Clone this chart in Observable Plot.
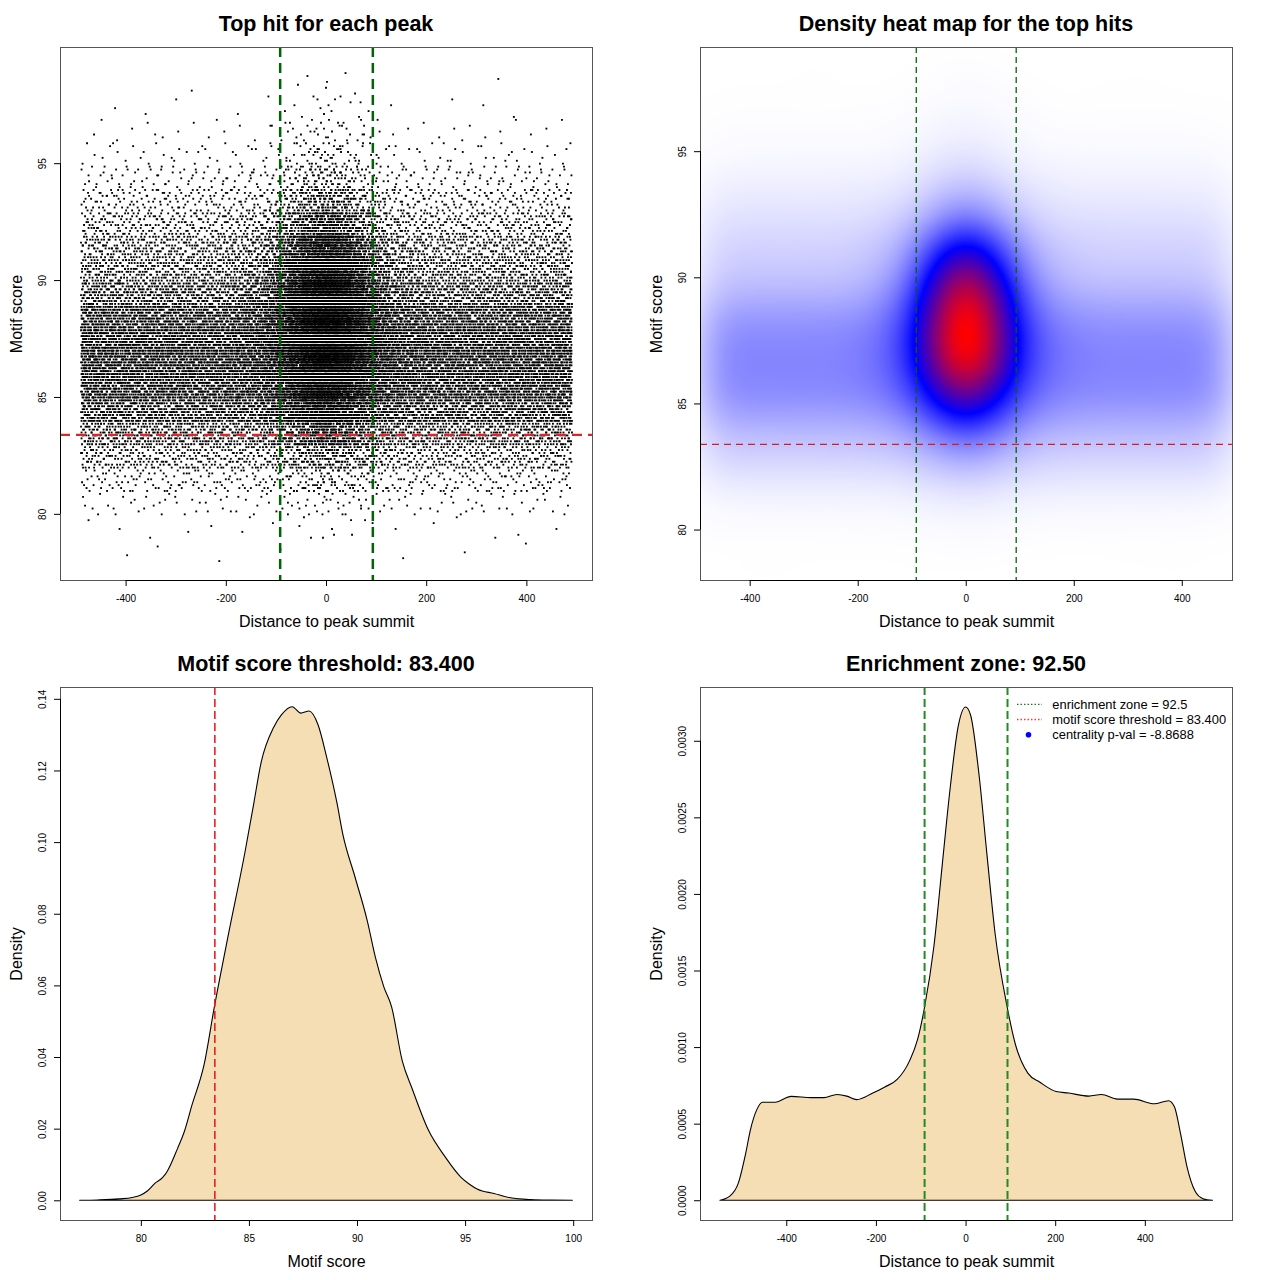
<!DOCTYPE html>
<html><head><meta charset="utf-8">
<script src="https://cdn.jsdelivr.net/npm/d3@7"></script>
<script src="https://cdn.jsdelivr.net/npm/@observablehq/plot@0.6"></script>
<style>
body{margin:0;background:#fff;}
#wrap{position:relative;width:1280px;height:1280px;font-family:"Liberation Sans",Arial,Helvetica,sans-serif;background:#fff;}
.panel{position:absolute;width:640px;height:640px;}
.panel svg.plot{position:absolute;left:0;top:0;}
.title{position:absolute;left:60px;width:532px;top:14px;text-align:center;font-weight:bold;font-size:21.5px;line-height:21px;white-space:nowrap;}
g[aria-label="x-axis label"] text, g[aria-label="y-axis label"] text{font-size:16px;}
.legend{position:absolute;left:0;top:0;pointer-events:none;}
</style></head><body><div id="wrap"></div>
<script>
// ---------- data ----------
// Motif score bins (lower edge, width 1) and point counts read from the scatter / density panels
const scoreBinStart = [78,79,80,81,82,83,84,85,86,87,88,89,90,91,92,93,94,95,96,97,98];
const backgroundCounts = [7,18,102,315,768,1280,1969,2586,2712,2653,2259,1575,1143,941,648,414,205,85,35,10,2];
const centralCounts = [2,6,15,41,112,255,560,930,1330,1530,1530,1450,1150,720,360,184,92,51,31,15,6];
// background hits spread over the whole window, central hits over these distance bins
const backgroundDistRange = [-490, 490];
const centralDistEdges = [-200,-175,-150,-125,-100,-75,-50,-25,0,25,50,75,100,125,150,175,200];
const centralDistCounts = [37,75,120,250,510,885,1425,1800,1800,1425,885,510,250,120,75,37];
const scoreStep = 0.125;

const enrichmentZone = 92.5;
const scoreThreshold = 83.4;

// density curve of motif scores
const scoreGrid = [77.17,78,79,79.6,80,80.3,80.66,81,81.23,81.7,82,82.36,82.93,83.4,84.06,84.82,85.2,85.57,86.14,86.5,87.0,87.4,87.78,88.2,88.6,89.07,89.35,89.9,90.48,90.86,91.24,91.6,92.09,92.56,93.3,94.07,94.8,95.2,95.58,96.34,97.1,98.04,99,99.96];
const scoreDens = [0,0.0001,0.0004,0.0008,0.0015,0.0026,0.0048,0.0063,0.0082,0.0145,0.019,0.0265,0.038,0.054,0.0745,0.0973,0.110,0.1224,0.132,0.1355,0.1378,0.136,0.1366,0.1327,0.1236,0.111,0.102,0.0904,0.0779,0.0676,0.0596,0.054,0.039,0.031,0.0196,0.0122,0.0065,0.0045,0.0031,0.0019,0.0007,0.0002,0.00005,0];
// density curve of distance to summit
const distGrid = [-548,-526,-507,-491,-480,-466,-453,-425,-389,-344,-316,-287,-265,-243,-207,-180,-152,-125,-107,-91.5,-70.5,-52,-34,-16,0,11,30,48,66,93,111,139,166,202,230,275,303,339,375,421,453,466,480,494,512,530,551];
const distDens = [0,0.000027,0.000112,0.0003,0.00046,0.00059,0.00064,0.00064,0.000678,0.00067,0.00067,0.00069,0.00068,0.000657,0.0007,0.00074,0.00079,0.00091,0.00105,0.00126,0.00166,0.00219,0.0027,0.0031,0.00322,0.00317,0.00278,0.00225,0.00174,0.00126,0.00102,0.00083,0.00077,0.00071,0.0007,0.00068,0.00069,0.00066,0.00066,0.00063,0.00065,0.00061,0.00043,0.00022,0.00006,0.00001,0];

// ticks
const distTicks = [-400,-200,0,200,400];
const scoreTicks = [80,85,90,95];
const scoreTicks3 = [80,85,90,95,100];
const dens3Ticks = [0,0.02,0.04,0.06,0.08,0.10,0.12,0.14];
const dens4Ticks = [0,0.0005,0.0010,0.0015,0.0020,0.0025,0.0030];

// legend
const legendLabels = ["enrichment zone = 92.5","motif score threshold = 83.400","centrality p-val = -8.8688"];
const legendColors = ["#1f7a1f","#e84040","blue"];
const legendKinds = ["line","line","dot"];

const titles = ["Top hit for each peak","Density heat map for the top hits","Motif score threshold: 83.400","Enrichment zone: 92.50"];

// ---------- build point table from binned counts (Halton placement inside each bin) ----------
function halton(i, b) { let f = 1, r = 0; while (i > 0) { f /= b; r += f * (i % b); i = Math.floor(i / b); } return r; }
const pts = [];
let idx = 17;
function nextUV() { idx++; return [halton(idx, 2), halton(idx, 3)]; }
const perRow = Math.round(1 / scoreStep);
const cdSum = d3.sum(centralDistCounts);
scoreBinStart.forEach((lo, i) => {
  for (let k = 0; k < backgroundCounts[i]; k++) {
    const [u, v] = nextUV();
    pts.push({d: Math.round(backgroundDistRange[0] + u * (backgroundDistRange[1] - backgroundDistRange[0])), s: lo + Math.floor(v * perRow) * scoreStep});
  }
  centralDistCounts.forEach((c, j) => {
    const n = Math.round(centralCounts[i] * c / cdSum);
    const a = centralDistEdges[j], b = centralDistEdges[j + 1];
    for (let k = 0; k < n; k++) {
      const [u, v] = nextUV();
      pts.push({d: Math.round(a + u * (b - a)), s: lo + Math.floor(v * perRow) * scoreStep});
    }
  });
});

// ---------- 2D kernel density of the points (like kde2d) ----------
const x2Dom = [-492, 493], y2Dom = [78.0, 99.13];
const kNx = 246, kNy = 170;
const kSigX = 38, kSigY = 0.55;
const cw = (x2Dom[1] - x2Dom[0]) / kNx, chh = (y2Dom[1] - y2Dom[0]) / kNy;
let kg = new Float64Array(kNx * kNy);
for (const p of pts) {
  const i = Math.floor((p.d - x2Dom[0]) / cw), j = Math.floor((p.s - y2Dom[0]) / chh);
  if (i >= 0 && i < kNx && j >= 0 && j < kNy) kg[j * kNx + i]++;
}
function kernel(sigmaCells) {
  const r = Math.ceil(sigmaCells * 3), k = [];
  for (let t = -r; t <= r; t++) k.push(Math.exp(-0.5 * (t / sigmaCells) ** 2));
  const s = d3.sum(k); return k.map(v => v / s);
}
function blur(src, nx, ny, kx, ky) {
  const tmp = new Float64Array(nx * ny), out = new Float64Array(nx * ny);
  const rx = (kx.length - 1) / 2, ry = (ky.length - 1) / 2;
  for (let j = 0; j < ny; j++) for (let i = 0; i < nx; i++) {
    let s = 0; for (let t = -rx; t <= rx; t++) { const ii = i + t; if (ii >= 0 && ii < nx) s += src[j * nx + ii] * kx[t + rx]; }
    tmp[j * nx + i] = s;
  }
  for (let j = 0; j < ny; j++) for (let i = 0; i < nx; i++) {
    let s = 0; for (let t = -ry; t <= ry; t++) { const jj = j + t; if (jj >= 0 && jj < ny) s += tmp[jj * nx + i] * ky[t + ry]; }
    out[j * nx + i] = s;
  }
  return out;
}
kg = blur(kg, kNx, kNy, kernel(kSigX / cw), kernel(kSigY / chh));
const kMax = d3.max(kg);
function kdeAt(x, y) {
  const fx = Math.min(Math.max((x - x2Dom[0]) / cw - 0.5, 0), kNx - 1.001);
  const fy = Math.min(Math.max((y - y2Dom[0]) / chh - 0.5, 0), kNy - 1.001);
  const i = Math.floor(fx), j = Math.floor(fy), a = fx - i, b = fy - j;
  const v00 = kg[j * kNx + i], v10 = kg[j * kNx + i + 1], v01 = kg[(j + 1) * kNx + i], v11 = kg[(j + 1) * kNx + i + 1];
  return (v00 * (1 - a) + v10 * a) * (1 - b) + (v01 * (1 - a) + v11 * a) * b;
}

// ---------- helpers ----------
const FONT = '"Liberation Sans", Arial, Helvetica, sans-serif';
const dash = d => String(d);
function axes({xTicks, yTicks, xDomain, yDomain, xFmt = dash, yFmt = dash, xLabel, yLabel}) {
  return [
    Plot.frame({stroke: "#555"}),
    Plot.ruleY([yDomain[0]], {x1: xTicks[0], x2: xTicks[xTicks.length - 1], stroke: "black"}),
    Plot.ruleX([xDomain[0]], {y1: yTicks[0], y2: yTicks[yTicks.length - 1], stroke: "black"}),
    Plot.axisX(xTicks, {tickSize: 6, tickPadding: 8, tickFormat: xFmt, label: xLabel, labelAnchor: "center", labelArrow: "none", labelOffset: 46}),
    Plot.axisY(yTicks, {tickSize: 6, tickRotate: -90, tickPadding: 9, tickFormat: yFmt, label: yLabel, labelAnchor: "center", labelArrow: "none", labelOffset: 50})
  ];
}
const base = {width: 640, height: 640, marginLeft: 60, marginRight: 48, marginTop: 47, marginBottom: 60,
  style: {fontFamily: FONT, fontSize: "10px", background: "transparent", overflow: "visible"}};

function panel(i, chart) {
  const div = document.createElement("div");
  div.className = "panel";
  div.style.left = (i % 2) * 640 + "px";
  div.style.top = Math.floor(i / 2) * 640 + "px";
  const t = document.createElement("div");
  t.className = "title"; t.textContent = titles[i];
  div.appendChild(chart);
  div.appendChild(t);
  document.getElementById("wrap").appendChild(div);
  return div;
}

// ---------- panel 1: scatter ----------
const x1Dom = [-531, 531], y1Dom = [77.17, 99.97];
panel(0, Plot.plot({...base,
  x: {domain: x1Dom}, y: {domain: y1Dom},
  marks: [
    Plot.dot(pts, {x: "d", y: "s", r: 1.05, symbol: "square", fill: "black"}),
    Plot.ruleX([-enrichmentZone, enrichmentZone], {stroke: "#006400", strokeWidth: 2.5, strokeDasharray: "10,6"}),
    Plot.ruleY([scoreThreshold], {stroke: "#e02525", strokeWidth: 2.2, strokeDasharray: "10,6"}),
    ...axes({xTicks: distTicks, yTicks: scoreTicks, xDomain: x1Dom, yDomain: y1Dom, xLabel: "Distance to peak summit", yLabel: "Motif score"})
  ]}));

// ---------- panel 2: density heat map ----------
panel(1, Plot.plot({...base,
  x: {domain: x2Dom}, y: {domain: y2Dom},
  color: {type: "linear", domain: [0, kMax], interpolate: d3.piecewise(d3.interpolateRgb, ["#ffffff", "#0000ff", "#ff0000"])},
  marks: [
    Plot.raster({x1: x2Dom[0], x2: x2Dom[1], y1: y2Dom[0], y2: y2Dom[1], fill: kdeAt, pixelSize: 1}),
    Plot.ruleX([-enrichmentZone, enrichmentZone], {stroke: "#006400", strokeWidth: 1.3, strokeDasharray: "6,4"}),
    Plot.ruleY([scoreThreshold], {stroke: "#d02020", strokeWidth: 1.3, strokeDasharray: "7,5"}),
    ...axes({xTicks: distTicks, yTicks: scoreTicks, xDomain: x2Dom, yDomain: y2Dom, xLabel: "Distance to peak summit", yLabel: "Motif score"})
  ]}));

// ---------- panel 3: motif score density ----------
const x3Dom = [76.26, 100.87], y3Dom = [-0.0055, 0.1433];
const scoreCurve = scoreGrid.map((x, i) => ({x, y: scoreDens[i]}));
panel(2, Plot.plot({...base,
  x: {domain: x3Dom}, y: {domain: y3Dom},
  marks: [
    Plot.areaY(scoreCurve, {x: "x", y: "y", fill: "#F5DEB3", stroke: "black", strokeWidth: 1.1, curve: "monotone-x"}),
    Plot.ruleX([scoreThreshold], {stroke: "#e82020", strokeWidth: 1.6, strokeDasharray: "8,4"}),
    ...axes({xTicks: scoreTicks3, yTicks: dens3Ticks, xDomain: x3Dom, yDomain: y3Dom, yFmt: d3.format(".2f"), xLabel: "Motif score", yLabel: "Density"})
  ]}));

// ---------- panel 4: distance density ----------
const x4Dom = [-592.5, 594.5], y4Dom = [-0.000129, 0.003351];
const distCurve = distGrid.map((x, i) => ({x, y: distDens[i]}));
const p4 = panel(3, Plot.plot({...base,
  x: {domain: x4Dom}, y: {domain: y4Dom},
  marks: [
    Plot.areaY(distCurve, {x: "x", y: "y", fill: "#F5DEB3", stroke: "black", strokeWidth: 1.1, curve: "monotone-x"}),
    Plot.ruleX([-enrichmentZone, enrichmentZone], {stroke: "#228b22", strokeWidth: 2, strokeDasharray: "8,4"}),
    ...axes({xTicks: distTicks, yTicks: dens4Ticks, xDomain: x4Dom, yDomain: y4Dom, yFmt: d3.format(".4f"), xLabel: "Distance to peak summit", yLabel: "Density"})
  ]}));

// legend (inside the plot area, top right)
const ns = "http://www.w3.org/2000/svg";
const lg = document.createElementNS(ns, "svg");
lg.setAttribute("class", "legend"); lg.setAttribute("width", 640); lg.setAttribute("height", 640);
lg.style.fontFamily = FONT;
legendLabels.forEach((lab, i) => {
  const cy = 64.3 + i * 15.2;
  if (legendKinds[i] === "line") {
    const l = document.createElementNS(ns, "line");
    l.setAttribute("x1", 377); l.setAttribute("x2", 402); l.setAttribute("y1", cy); l.setAttribute("y2", cy);
    l.setAttribute("stroke", legendColors[i]); l.setAttribute("stroke-width", 1.3); l.setAttribute("stroke-dasharray", "1.5,2");
    lg.appendChild(l);
  } else {
    const c = document.createElementNS(ns, "circle");
    c.setAttribute("cx", 388.5); c.setAttribute("cy", cy); c.setAttribute("r", 2.8); c.setAttribute("fill", legendColors[i]);
    lg.appendChild(c);
  }
  const t = document.createElementNS(ns, "text");
  t.setAttribute("x", 412.3); t.setAttribute("y", cy + 4.5); t.setAttribute("font-size", "12.9px");
  t.textContent = lab;
  lg.appendChild(t);
});
p4.appendChild(lg);
</script></body></html>
